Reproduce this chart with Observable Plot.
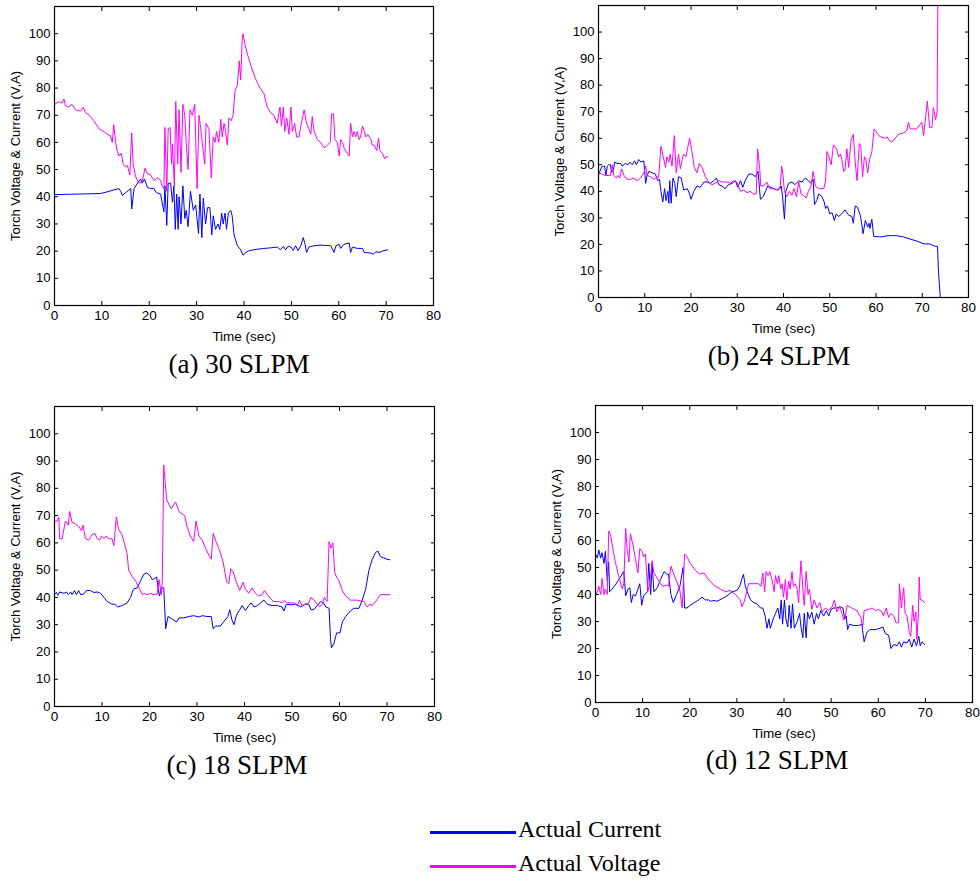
<!DOCTYPE html>
<html>
<head>
<meta charset="utf-8">
<script src="https://cdn.jsdelivr.net/npm/d3@7"></script>
<script src="https://cdn.jsdelivr.net/npm/@observablehq/plot@0.6"></script>
<style>
  html, body { margin: 0; padding: 0; background: #fff; }
  #page { position: relative; width: 980px; height: 882px; background: #fff; overflow: hidden; }
  .panel { position: absolute; }
  .cap { position: absolute; font-family: "Liberation Serif", "Times New Roman", serif; font-size: 27px; color: #000; transform: translate(-50%, -50%); white-space: nowrap; }
  .leg { position: absolute; font-family: "Liberation Serif", "Times New Roman", serif; font-size: 24px; color: #000; white-space: nowrap; }
  .legline { position: absolute; height: 3px; }
</style>
</head>
<body>
<div id="page"></div>
<script>
// ---------- data: [time (s), value] ----------
const xTicks = [0, 10, 20, 30, 40, 50, 60, 70, 80];
const yTicks = [0, 10, 20, 30, 40, 50, 60, 70, 80, 90, 100];
const captions = ["(a) 30 SLPM", "(b) 24 SLPM", "(c) 18 SLPM", "(d) 12 SLPM"];
const seriesNames = ["Actual Current", "Actual Voltage"];

const currentA = [[0,40.8],[5,41],[9.7,41.2],[11.1,41.8],[12.5,42.5],[13.6,43],[14,42],[14.3,40.5],[15,41.5],[15.7,42.5],[16.1,43],[16.3,35.5],[16.8,43],[17.5,45],[18.2,46.5],[18.5,45],[19,46.5],[19.6,43.5],[20.3,43],[21,43],[21.5,41.5],[22.4,41],[22.7,38],[23.1,34.5],[23.3,44],[23.7,29.5],[24,45],[24.5,45],[24.9,38],[25.2,44],[25.5,28],[25.8,41],[26.1,28],[26.3,40],[26.7,30],[27.1,44],[27.5,32],[27.8,35],[28.2,29],[28.7,42],[29.3,35],[29.8,37],[30.4,26.5],[30.7,41],[31.1,25],[31.4,39.5],[31.9,30],[32.3,36],[32.8,36],[33.2,26],[33.5,33],[34,28],[34.5,30],[34.9,28],[35.3,34],[35.6,30],[36,34],[36.3,28],[36.7,34],[37.2,35],[37.5,33],[37.9,26],[38.6,22],[39.3,20.5],[39.8,18.5],[40.4,19.5],[41.1,20.2],[42.8,20.7],[44.2,21],[45.6,21.2],[47,21.5],[47.7,20.5],[48.3,21.7],[48.8,20.5],[49.3,21.8],[49.9,21.5],[50.4,20.3],[50.9,22],[51.4,20.2],[52,22],[52.5,25],[52.9,22.5],[53.2,19.5],[53.7,21.5],[54.8,22],[56.2,22.2],[58.3,22],[59,19.5],[59.4,22],[60.1,22.5],[60.4,21],[61.1,22.5],[62.2,23],[62.5,19.5],[62.9,21.5],[63.9,21],[65,21],[65.4,19.5],[66.8,19.3],[67.3,18.8],[67.8,19.8],[68.5,19.5],[69.2,20],[70.3,20.5]];

const voltageA = [[0,74],[0.9,75],[1.6,74.5],[2,76],[2.3,73.5],[3,73],[3.7,74],[4.4,72],[5.5,71.5],[6.1,73],[6.5,71],[7.3,70],[8.3,68],[9.4,65],[10.4,64],[11.1,63],[11.8,62.5],[12.2,60],[12.5,66.5],[12.9,60],[13.2,57],[13.6,55],[14.1,56],[14.5,52],[15,51],[15.4,51.5],[15.9,48],[16.3,63.5],[16.6,52],[17.1,47.5],[17.8,45],[18.5,45.5],[19.1,50.5],[19.6,48.5],[20.3,48],[21,46],[21.7,47],[22.4,46],[22.7,44],[23.1,43],[23.3,65.5],[23.7,42],[24,65],[24.4,65.5],[24.7,52],[24.9,59.5],[25.3,44],[25.6,75],[26,52],[26.3,72],[26.7,49],[27.1,74],[27.5,70],[27.8,60],[28.2,50],[28.6,72],[29.1,70],[29.6,74],[30.1,43],[30.5,70],[30.8,66],[31.2,60],[31.7,52],[32,67],[32.6,65],[33.1,47],[33.5,62],[33.9,60],[34.2,64],[34.7,60],[35.1,68.5],[35.4,62],[35.8,67],[36.1,64],[36.5,59],[36.8,69],[37.3,68],[37.7,70],[38.1,79],[38.6,81],[39,90],[39.3,83],[39.6,97],[39.8,100],[40.2,96],[40.8,92],[41.5,88],[42.3,84],[42.8,82],[43.4,80],[44.2,78],[44.9,73],[45.6,71],[46.3,70],[47,67],[47.6,73],[47.9,66],[48.3,73],[48.6,64],[49,69],[49.5,63],[49.9,73],[50.2,64],[50.7,67],[51.1,62],[51.6,62],[52.1,67],[52.7,72],[53.2,67],[53.7,65],[54.1,63],[54.4,69.5],[54.8,64],[55.5,61],[56.2,60],[56.9,58],[57.6,59],[58.2,60],[58.5,70.5],[58.9,70.5],[59.2,61],[59.7,60],[60.1,55],[60.4,61],[60.8,60],[61.1,58],[61.8,56],[62.2,55],[62.5,67],[62.9,62],[63.2,64],[63.6,62],[63.9,64],[64.3,61],[64.6,62],[65,66],[65.4,64],[65.7,62],[66.1,63],[66.8,61],[67.1,59],[67.5,59],[68,57],[68.4,61.5],[68.7,57],[69.2,56],[69.7,54],[70.1,55],[70.3,54.5]];

const currentB = [[0,46],[0.4,48],[0.8,49.5],[1.3,49.5],[1.6,46],[1.9,49.5],[2.2,50],[2.6,50],[2.8,47],[3.2,48],[3.5,51],[4,50.5],[4.8,50.5],[5.1,49.5],[5.8,50.5],[6.3,50],[6.8,51],[7.3,50],[7.8,51.5],[8.2,50],[8.7,52],[9.2,51],[9.8,51.5],[10.2,43],[10.5,46],[10.9,47.5],[11.6,47],[12.3,46.5],[12.8,44],[13.2,44.5],[13.5,40],[13.9,36],[14.3,41],[14.6,36.5],[15,40],[15.2,35.5],[15.4,44],[15.7,35.5],[16.1,45],[16.5,43],[16.8,38],[17.3,45.5],[17.9,45],[18.4,40.5],[19.2,41],[19.7,39],[20,37],[20.6,40],[21.3,42],[22,41.5],[22.8,43.5],[23.5,43.5],[24.2,43],[24.9,44],[25.5,45],[26,42.5],[26.7,42],[27.4,41],[28.1,42.5],[28.9,43],[29.6,44],[30.1,41.5],[30.7,44],[31.2,41.5],[31.7,44],[32.5,46.5],[33.2,46.5],[33.9,45.5],[34.5,47.5],[35,37],[35.6,38],[36.1,40],[36.6,42],[37.9,41],[38.6,40.5],[39.2,41],[39.5,42],[39.8,38],[40.2,29.5],[40.5,40],[41.1,43],[41.8,43.5],[42.5,42.5],[43.3,44],[44,43.5],[44.7,45],[45.4,44],[45.9,43],[46.4,44.5],[46.7,35],[47.2,36.5],[47.6,39],[48.3,38],[48.8,36],[49.1,33.5],[49.5,34.5],[50,31.5],[50.5,32],[51,29],[51.4,31.5],[51.9,30.5],[52.6,31.5],[53.3,33],[54.1,31],[54.8,30.5],[55.1,28],[55.5,34.5],[56,34],[56.6,31],[56.9,28],[57.2,24],[57.7,29],[58.2,26.5],[58.5,28],[58.7,26],[59.1,29.5],[59.5,23],[60.9,22.8],[62.7,23.3],[64.5,23.3],[66,22.8],[67.4,22],[68.8,21.3],[70.3,20.2],[71.7,20.2],[72.4,19.5],[73.3,19.2],[73.5,10],[73.9,0],[77.5,0]];

const voltageB = [[0,47],[0.8,46.5],[1.3,46],[2.6,46],[3,50],[3.3,46],[3.9,45],[4.2,46],[4.6,45],[5,48.5],[5.5,46],[6.2,44.5],[6.9,44.5],[7.6,45],[8.4,44],[9.1,45],[9.8,47],[10.2,49.5],[10.5,46],[11.2,45.5],[12,44.5],[12.7,45.5],[13,45],[13.5,57],[14,53],[14.5,49],[14.8,53],[15.2,51],[15.5,54],[15.9,49.5],[16.4,61],[16.8,47],[17.3,54],[17.7,48.5],[18.1,52],[18.4,54],[18.9,53],[19.7,60],[20.2,55],[20.7,49],[21.3,47],[21.8,50.5],[22.4,49],[23.1,45.5],[23.8,43.5],[24.5,42.5],[25.3,43],[26,44],[26.7,43.5],[27.8,43.5],[28.5,43],[29.2,44],[29.9,43.5],[30.7,40],[31.4,40.5],[32.1,39.5],[32.8,40],[33.5,39],[34.1,39],[34.4,56],[34.8,50],[35.1,42],[35.7,42],[36.4,43.5],[37,41],[37.9,41],[38.9,40.5],[39.3,42],[39.6,49.5],[39.9,46],[40.2,40],[40.7,38],[41.3,40],[41.8,38.5],[42.3,41],[42.8,38],[43.3,43.5],[43.8,39],[44.3,38.5],[44.9,37.5],[45.4,40],[45.9,41.5],[46.4,47.5],[46.9,42],[47.6,41],[48.7,41],[49.1,44],[49.4,55],[49.8,53],[50.3,50],[50.8,57.5],[51.5,56],[51.9,53],[52.3,54],[52.6,52],[53,47.5],[53.3,48],[53.7,56],[54.1,49],[54.6,59],[55.1,61.5],[55.5,51],[55.9,44],[56.4,58],[56.7,57],[57.1,45.5],[57.5,53],[57.8,52],[58.2,47],[58.6,52],[59.1,55],[59.6,63.5],[60.2,62],[60.9,60.5],[62,60],[62.4,60.5],[62.7,59.5],[63.4,58.5],[64.1,60],[64.9,61.5],[66,62],[66.7,63],[67,66],[67.4,63.5],[68.8,63.5],[69.9,66],[70.3,61],[70.6,66],[71.1,74],[71.6,64],[72.1,64],[72.4,71.5],[72.9,67],[73.2,70],[73.45,130]];

const currentC = [[0,41],[0.4,41.8],[0.7,40.8],[1.1,42],[2,41.5],[2.5,42],[2.9,41],[3.4,42],[3.7,41],[4.2,42.5],[4.6,41],[5.1,42.5],[5.5,41],[6.2,41.3],[6.7,42.5],[7.6,42.5],[8.3,41.8],[9,42],[9.7,41.5],[10.4,40],[11.1,38.5],[12.1,37.5],[12.7,37.5],[13.3,36.5],[14.2,37],[15.3,38],[16,40],[16.6,43],[17.4,43.5],[18.1,46],[18.8,48.5],[19.4,49],[20.1,48],[20.6,46.5],[21.1,47],[21.5,47.5],[21.8,43.5],[22.1,40.5],[22.5,43.5],[23,43.5],[23.4,28.5],[23.9,33],[24.8,32],[25.7,31],[26.2,32.5],[27.2,32.5],[28.3,33],[29.3,33.3],[30.4,32.8],[31.1,33.3],[32.1,33],[33,33],[33.4,28.5],[33.9,29.5],[34.9,29.5],[35.6,31],[36.5,33],[36.9,35.5],[37.4,31.5],[37.8,30],[38.3,33.5],[39,35.5],[39.5,37],[40.2,35.2],[40.9,37],[41.4,38],[42,36.5],[42.7,37],[43.4,38],[44.1,39],[44.8,37.5],[45.8,37],[46.9,37],[47.9,36.5],[48.3,35],[48.8,37.5],[49.7,37.3],[50.7,37.5],[51.8,36.5],[52.8,37.5],[53.5,37.5],[54,35.5],[54.6,35.5],[55.3,37],[56,38.5],[56.6,38],[57.1,36.5],[57.8,36],[58.1,25],[58.3,21.5],[58.8,23],[59.4,27],[60.1,27],[60.6,31],[61.3,33],[62,34.5],[63,36],[64.1,36],[64.8,39],[65.5,43],[66.2,50],[66.9,54],[67.6,56.5],[68.1,57],[68.6,55],[69.3,54.5],[70,54],[70.6,53.8]];

const voltageC = [[0,68],[0.6,68],[0.9,69.5],[1.1,61.5],[1.6,61.5],[2.3,68],[2.9,66.5],[3.2,71.5],[3.7,67.5],[4.4,67],[5.1,66],[5.7,64.5],[6,66.5],[6.5,61.5],[7.2,61],[7.9,63],[8.5,63.5],[9,61.5],[9.5,61],[9.9,62.5],[10.4,61.5],[10.9,62.5],[11.4,61.5],[12.1,61.5],[12.5,59],[13,69.5],[13.5,65],[14.2,63],[14.7,60],[15.3,56],[15.6,50],[16.4,47.5],[17.1,46],[17.8,43.5],[18.5,41],[18.9,41.5],[19.5,41],[20.2,41.5],[20.9,41],[21.6,41],[22,46.5],[22.5,41],[22.7,46.5],[23,88.5],[23.6,76],[24.1,74],[24.6,72.5],[25.1,74],[25.5,75],[26.2,71.5],[26.9,70.5],[27.4,70],[27.9,66],[28.6,62.5],[29.3,60.5],[29.8,68],[30.4,62.5],[31.1,61],[31.8,58],[32.5,55.5],[33,54],[33.4,63.5],[34.1,60],[34.8,57],[35.5,53],[36.2,46],[36.7,45],[37.1,50.5],[37.6,49.5],[38.3,45.5],[39,42.5],[39.7,45.5],[40.2,43],[40.9,41.5],[41.6,43.5],[42.3,41.5],[43,40.5],[43.7,41],[44.2,42.5],[44.8,41],[45.5,39.5],[46.1,38.5],[47.2,38.5],[47.9,38],[48.4,39],[49,38],[50.4,38],[51.1,37],[51.6,39],[52.1,37],[52.8,37.5],[53.5,38],[54,40],[54.7,39],[55.3,37.5],[55.8,36.5],[56.4,37.5],[56.8,40],[57.4,38.5],[57.8,60.5],[58.2,58],[58.6,60],[59,49],[59.5,47],[59.8,46.5],[60.6,42.5],[61.3,40.5],[62.3,39],[63.7,39],[65.1,38.5],[65.8,36.5],[66.4,37.5],[66.9,37],[67.6,38.5],[68.6,41],[70.6,41]];

const currentD = [[0,55],[0.4,53.5],[0.7,56.5],[1.1,53.5],[1.4,55.5],[1.8,51.5],[2.1,56],[2.5,45],[2.8,52],[3,41],[3.5,42],[4.2,43.5],[5.3,46.5],[6,48.5],[6.2,44.5],[6.4,39.5],[6.9,42],[7.3,42.5],[7.6,37],[8,40],[8.5,39.5],[9,42],[9.4,44],[9.8,36],[10.2,39.5],[11,41],[11.3,51.5],[11.7,40],[12,51.5],[12.4,41],[13.1,42.5],[13.8,45.5],[14.3,47.5],[14.6,48.5],[15.1,47.5],[15.5,47.5],[16,40],[16.5,37],[17.2,40],[17.9,43],[18.6,50],[18.9,35],[19.4,35],[20.1,36],[21,37],[21.9,38],[22.6,39],[23.3,38],[24,38],[24.4,37.5],[25.1,37.8],[25.8,37.5],[26.9,38.5],[27.9,39.5],[29,41],[30,41.5],[30.6,43],[31.1,46],[31.4,47.5],[31.8,43],[32.2,41],[32.9,38],[33.6,37],[34.3,36.5],[35,35],[35.5,35],[36,32],[36.4,27.5],[36.8,31],[37.1,27.5],[37.7,31],[38.2,33],[38.7,35],[39.1,31],[39.4,38],[39.7,29],[40.1,38],[40.4,31],[40.8,28],[41.1,36],[41.5,27.5],[41.8,36.5],[42.2,27.5],[42.8,30],[43.3,33],[43.6,28],[44,24],[44.3,33],[44.7,24],[45,33.5],[45.4,31],[45.9,33.5],[46.4,29],[46.9,33],[47.3,31],[47.8,34],[48.4,32],[49,34],[49.5,32],[50,34.5],[50.5,35],[51.2,35],[51.9,35.5],[52.5,35],[52.9,31],[53.2,32],[53.5,27],[53.9,29],[54.8,28.5],[55.8,28.5],[56.5,29],[57,22.5],[57.6,26],[58.3,27],[59.4,27],[60.4,27.5],[61,28],[61.5,25.5],[62.2,25],[62.7,20],[63.3,21.5],[64,21],[64.5,22.5],[64.9,20.5],[65.4,22.5],[66.1,22],[66.6,23.5],[67.1,20.5],[67.6,23.5],[68.1,21],[68.6,24.5],[68.9,21],[69.3,22.5],[69.8,21.5]];

const voltageD = [[0,40],[0.4,41],[0.7,43],[1.1,40],[1.4,46],[1.8,40],[2.1,42],[2.5,40],[2.8,63.5],[3.2,62],[3.7,57],[4.2,52],[4.9,47],[5.7,42],[6,44],[6.4,64.5],[6.7,57],[7.1,52],[7.4,62.5],[8,58],[8.5,53],[9,48],[9.4,57],[9.9,56],[10.2,54],[10.6,55],[11.1,41],[11.7,46],[12,52.5],[12.4,48],[13.1,46],[13.8,44],[14.3,43],[15.1,43.5],[15.5,43],[16,50.5],[16.5,48],[17.2,45],[17.9,41.5],[18.4,35],[18.9,55],[19.4,54],[20.1,51.5],[21.2,49],[22.1,47.5],[23,48],[24,45.5],[25.1,43.5],[26.5,42],[27.6,41],[28.6,41.5],[29.7,40],[30.7,38],[31.1,35.5],[31.6,37.5],[32.2,42],[32.5,44],[33.6,44],[34.6,44],[35.1,43],[35.5,48],[35.9,41],[36.2,48.5],[36.6,47],[37,48.5],[37.5,45],[37.9,41],[38.2,47],[38.6,44],[38.9,47],[39.3,42],[39.6,44],[39.9,39],[40.3,45.5],[40.6,38],[41,45],[41.3,42],[41.7,48.5],[42,43],[42.4,44],[42.8,42],[43.1,37],[43.6,52.5],[44,42],[44.3,36],[44.7,48.5],[45.1,40],[45.4,42],[45.9,34.5],[46.4,38],[47,35],[47.6,37],[48.1,33.5],[48.8,35],[49.5,34],[50.2,35.5],[50.7,38],[51.2,33.5],[51.8,35.5],[52.3,33],[52.7,30.5],[53,32],[53.4,36],[54.4,35],[55.5,34],[56.3,31.5],[56.7,28],[57,34],[58,34.5],[58.7,35],[59.4,34],[60.1,34.5],[60.8,33.5],[61.1,32],[61.7,35],[62.2,31.5],[62.7,33],[63.3,32],[63.8,29.5],[64.3,29.5],[64.5,44],[64.9,35],[65.4,42.5],[65.7,33],[66.1,32],[66.6,26],[66.9,24.5],[67.3,36],[67.6,30],[68,33.5],[68.2,23.5],[68.5,32],[68.7,46.5],[68.9,38],[69.3,38],[69.8,37]];

// ---------- layout ----------
const page = document.getElementById("page");
const CUR = "#0000ff", VOLT = "#ff00ff";

function panel(cur, volt, cfg) {
  const p = Plot.plot({
    width: cfg.w, height: cfg.h,
    marginLeft: cfg.ml, marginRight: cfg.mr, marginTop: cfg.mt, marginBottom: cfg.mb,
    style: { fontFamily: "'Liberation Sans', Arial, sans-serif", fontSize: "13.5px", color: "#000", background: "transparent", overflow: "visible" },
    x: { domain: [0, 80] },
    y: { domain: [0, 110] },
    marks: [
      Plot.line(cur, { x: d => d[0], y: d => d[1], stroke: CUR, strokeWidth: 1, clip: true }),
      Plot.line(volt, { x: d => d[0], y: d => d[1], stroke: VOLT, strokeWidth: 1, clip: true }),
      Plot.frame({ stroke: "#000", strokeWidth: 1.2 }),
      Plot.axisX(xTicks, { anchor: "bottom", tickSize: -4, tickPadding: 9, label: "Time (sec)", labelAnchor: "center", labelOffset: 35, labelArrow: "none" }),
      Plot.axisX(xTicks, { anchor: "top", tickSize: -4, tickFormat: () => "", label: null }),
      Plot.axisY(yTicks, { anchor: "left", tickSize: -4, tickPadding: 8, label: "Torch Voltage & Current (V,A)", labelAnchor: "center", labelOffset: 44, labelArrow: "none", fontSize: 13 }),
      Plot.axisY(yTicks, { anchor: "right", tickSize: -4, tickFormat: () => "", label: null })
    ]
  });
  const d = document.createElement("div");
  d.className = "panel";
  d.style.left = cfg.left + "px";
  d.style.top = cfg.top + "px";
  d.appendChild(p);
  page.appendChild(d);
}

panel(currentA, voltageA, { left: 0, top: 0, w: 440, h: 345, ml: 54, mr: 7, mt: 6, mb: 40 });
panel(currentB, voltageB, { left: 540, top: 0, w: 440, h: 345, ml: 58, mr: 12, mt: 5, mb: 48 });
panel(currentC, voltageC, { left: 0, top: 395, w: 440, h: 350, ml: 54, mr: 6, mt: 11, mb: 39 });
panel(currentD, voltageD, { left: 540, top: 395, w: 440, h: 350, ml: 55, mr: 8, mt: 10, mb: 43 });

const capPos = [[239, 364], [779, 356], [237, 765], [777, 760]];
captions.forEach((c, i) => {
  const e = document.createElement("div");
  e.className = "cap";
  e.textContent = c;
  e.style.left = capPos[i][0] + "px";
  e.style.top = capPos[i][1] + "px";
  page.appendChild(e);
});

// legend
[[CUR, 832], [VOLT, 866]].forEach(([col, y], i) => {
  const l = document.createElement("div");
  l.className = "legline";
  l.style.left = "430px"; l.style.width = "86px"; l.style.top = (y - 1) + "px";
  l.style.background = col;
  page.appendChild(l);
  const t = document.createElement("div");
  t.className = "leg";
  t.textContent = seriesNames[i];
  t.style.left = "518px"; t.style.top = (y - 16) + "px";
  page.appendChild(t);
});
</script>
</body>
</html>
